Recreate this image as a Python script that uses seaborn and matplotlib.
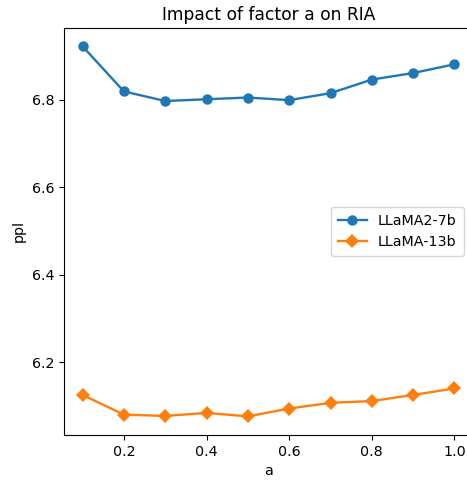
import pandas as pd
import seaborn as sns
import matplotlib.pyplot as plt

a_values = [0.1, 0.2, 0.3, 0.4, 0.5, 0.6, 0.7, 0.8, 0.9, 1.0]
llama2_7b = [6.922, 6.819, 6.797, 6.801, 6.805, 6.799, 6.815, 6.846, 6.861, 6.881]
llama_13b = [6.125, 6.080, 6.077, 6.084, 6.076, 6.094, 6.107, 6.111, 6.125, 6.140]

df = pd.DataFrame({"a": a_values, "LLaMA2-7b": llama2_7b, "LLaMA-13b": llama_13b})

plt.rcParams["font.size"] = 10.3

fig, ax = plt.subplots(figsize=(4.67, 4.8), dpi=100)
sns.lineplot(data=df, x="a", y="LLaMA2-7b", marker="o", markersize=7.5, markeredgewidth=0,
             linewidth=1.7, color="#1f77b4", label="LLaMA2-7b", ax=ax)
sns.lineplot(data=df, x="a", y="LLaMA-13b", marker="D", markersize=7.5, markeredgewidth=0,
             linewidth=1.7, color="#ff7f0e", label="LLaMA-13b", ax=ax)

ax.set_title("Impact of factor a on RIA")
ax.set_xlabel("a")
ax.set_ylabel("ppl")
ax.legend(loc="center right", bbox_to_anchor=(0.995, 0.5), borderpad=0.5)

# the original is cropped on the right, so the axes run a little past the edge
plt.subplots_adjust(left=0.137, right=1.013, top=0.942, bottom=0.094)
plt.savefig("out.png")
